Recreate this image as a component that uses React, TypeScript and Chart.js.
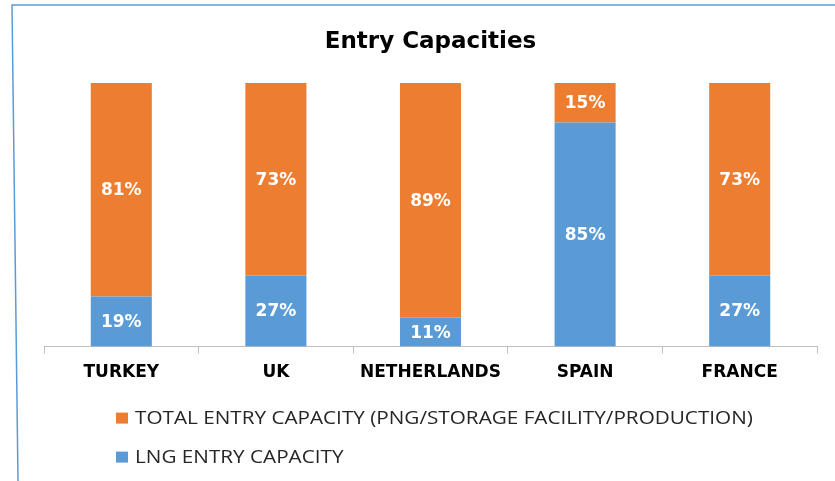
import React, { useEffect, useRef } from "react";
import { Chart, registerables } from "chart.js";

Chart.register(...registerables);

const categories = ["TURKEY", "UK", "NETHERLANDS", "SPAIN", "FRANCE"];
const lngEntry = [19, 27, 11, 85, 27];
const totalEntry = [81, 73, 89, 15, 73];
const seriesNames = ["LNG ENTRY CAPACITY", "TOTAL ENTRY CAPACITY (PNG/STORAGE FACILITY/PRODUCTION)"];
const seriesColors = ["#5B9BD5", "#ED7D31"];
const chartTitle = "Entry Capacities";

const dataLabelPlugin = {
  id: "dataLabels",
  afterDatasetsDraw(chart: any) {
    const ctx = chart.ctx;
    ctx.save();
    ctx.font = 'bold 17px "DejaVu Sans"';
    ctx.fillStyle = "#ffffff";
    ctx.textAlign = "center";
    ctx.textBaseline = "middle";
    chart.data.datasets.forEach((ds: any, i: number) => {
      const meta = chart.getDatasetMeta(i);
      meta.data.forEach((el: any, j: number) => {
        const p = el.getProps(["x", "y", "base"], true);
        ctx.fillText(ds.data[j] + "%", p.x, (p.y + p.base) / 2 + 1);
      });
    });
    ctx.restore();
  },
};

const legendPlugin = {
  id: "customLegend",
  afterDraw(chart: any) {
    const ctx = chart.ctx;
    const bottom = chart.chartArea.bottom;
    const items = chart.data.datasets.map((d: any) => ({ label: d.label, color: d.backgroundColor })).reverse();
    items.forEach((it: any, i: number) => {
      const cy = bottom + 72 + i * 39;
      ctx.save();
      ctx.fillStyle = it.color;
      ctx.fillRect(116, cy - 6, 12, 11);
      ctx.translate(135, cy);
      ctx.scale(1.15, 1);
      ctx.font = '18px "Open Sans"';
      ctx.textBaseline = "middle";
      ctx.textAlign = "left";
      ctx.fillStyle = "#262626";
      ctx.fillText(it.label, 0, 0);
      ctx.restore();
    });
  },
};

const borderPlugin = {
  id: "frame",
  afterDraw(chart: any) {
    const ctx = chart.ctx;
    ctx.save();
    ctx.strokeStyle = "#5B9BD5";
    ctx.lineWidth = 1.5;
    ctx.beginPath();
    ctx.moveTo(18, chart.height);
    ctx.lineTo(12, 5);
    ctx.lineTo(chart.width, 5);
    ctx.stroke();
    ctx.restore();
  },
};

export default function App() {
  const ref = useRef<HTMLCanvasElement>(null);
  useEffect(() => {
    if (!ref.current) return;
    const chart = new Chart(ref.current, {
      type: "bar",
      data: {
        labels: categories,
        datasets: [
          { label: seriesNames[0], data: lngEntry, backgroundColor: seriesColors[0], borderWidth: 0 },
          { label: seriesNames[1], data: totalEntry, backgroundColor: seriesColors[1], borderWidth: 0 },
        ],
      },
      options: {
        responsive: false,
        animation: false,
        layout: { padding: { left: 44, right: 18, top: 0, bottom: 89 } },
        datasets: { bar: { categoryPercentage: 1, barPercentage: 0.395 } },
        plugins: {
          legend: { display: false },
          tooltip: { enabled: false },
          title: {
            display: true,
            text: chartTitle,
            color: "#000000",
            font: { family: "DejaVu Sans", size: 23, weight: "bold" },
            padding: { top: 28, bottom: 27.4 },
          },
        },
        scales: {
          x: {
            stacked: true,
            border: { display: true, color: "#BFBFBF", width: 1 },
            grid: { display: true, drawOnChartArea: false, drawTicks: true, tickLength: 7, color: "#BFBFBF", offset: true },
            ticks: { color: "#000000", font: { family: "DejaVu Sans", size: 17, weight: "bold" }, padding: 9, maxRotation: 0 },
          },
          y: { stacked: true, display: false, min: 0, max: 100 },
        },
      },
      plugins: [dataLabelPlugin, legendPlugin, borderPlugin],
    });
    return () => chart.destroy();
  }, []);
  return (
    <div style={{ position: "fixed", left: 0, top: 0, width: 835, height: 481, background: "#fff" }}>
      <canvas ref={ref} width={835} height={481} />
    </div>
  );
}
